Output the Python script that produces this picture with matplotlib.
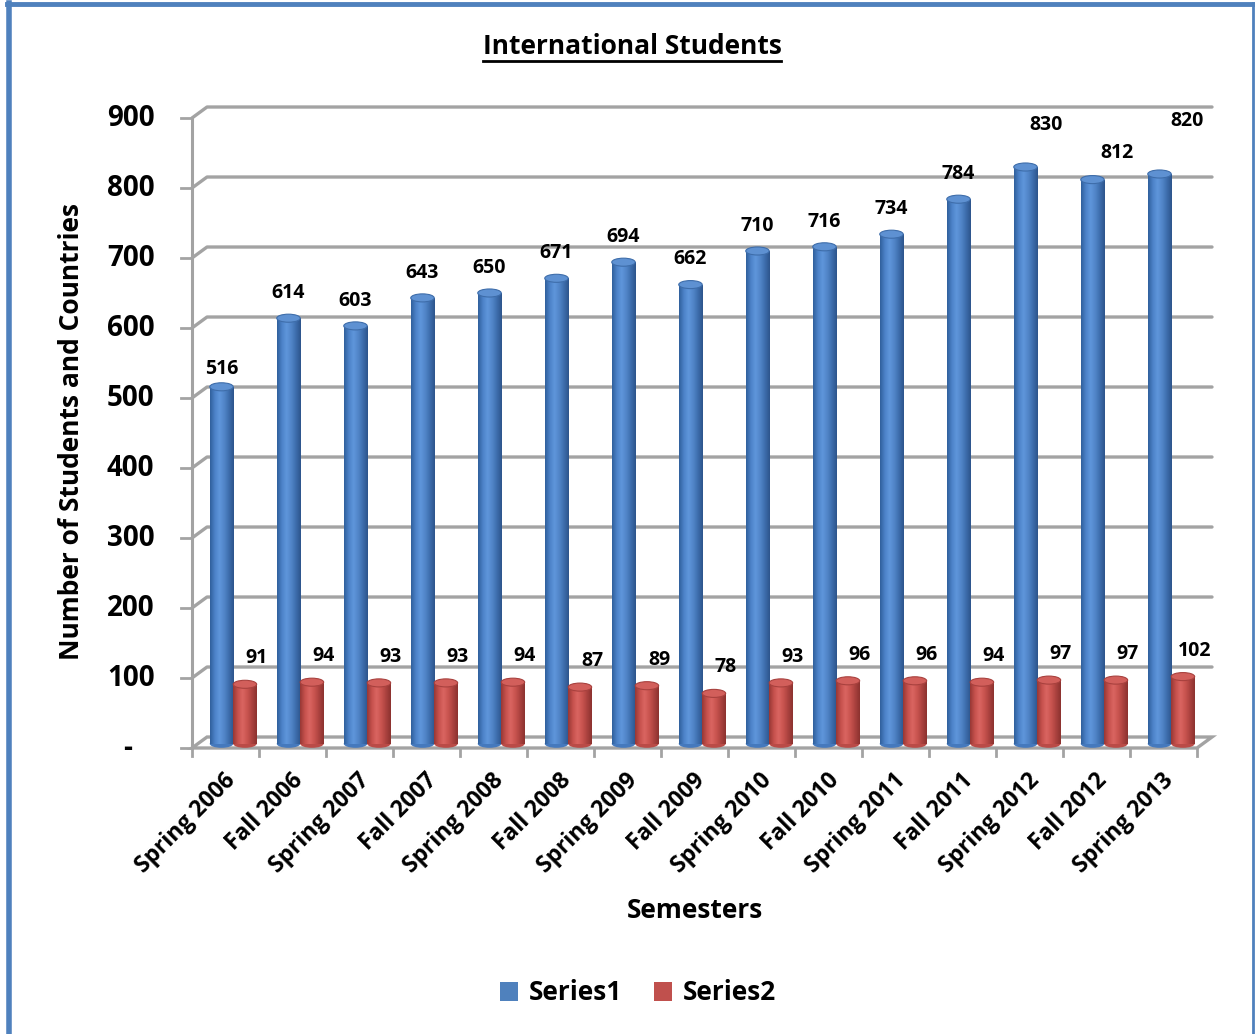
import numpy as np
import matplotlib
matplotlib.use("Agg")
import matplotlib.pyplot as plt
from matplotlib.patches import Rectangle, Ellipse, Patch, Polygon
from matplotlib.lines import Line2D
from matplotlib.colors import LinearSegmentedColormap

plt.rcParams["font.family"] = ["Open Sans", "DejaVu Sans"]
plt.rcParams["font.weight"] = "bold"

semesters = ["Spring 2006", "Fall 2006", "Spring 2007", "Fall 2007", "Spring 2008",
             "Fall 2008", "Spring 2009", "Fall 2009", "Spring 2010", "Fall 2010",
             "Spring 2011", "Fall 2011", "Spring 2012", "Fall 2012", "Spring 2013"]
series1 = [516, 614, 603, 643, 650, 671, 694, 662, 710, 716, 734, 784, 830, 812, 820]
series2 = [91, 94, 93, 93, 94, 87, 89, 78, 93, 96, 96, 94, 97, 97, 102]
y_ticks = [0, 100, 200, 300, 400, 500, 600, 700, 800, 900]
y_ticklabels = ["-   ", "100", "200", "300", "400", "500", "600", "700", "800", "900"]

# a few of the upper labels sit off to the side (offset points)
s1_label_nudge = {0: (0, -5), 12: (15, 12), 13: (18, 1), 14: (20, 20)}

W, H = 1255, 1034
fig = plt.figure(figsize=(W / 100, H / 100), dpi=100)
fig.patch.set_facecolor("white")

# front plane: x 0..15 -> 192..1197 px, y 0..900 -> 748..118 px
ax = fig.add_axes([192 / W, (H - 748) / H, 1005 / W, 630 / H])
ax.set_xlim(0, 15)
ax.set_ylim(0, 900)
ax.axis("off")

n = len(semesters)
dx, dy = 0.224, 15.7          # depth offset of the back wall
grid_c = "#A3A3A3"

# back wall gridlines + left wall diagonals
for v in y_ticks[1:]:
    ax.plot([0, dx, n + dx], [v, v + dy, v + dy], color=grid_c, lw=2.4,
            solid_capstyle="round", zorder=1, clip_on=False)
# floor
ax.add_patch(Polygon([[0, 0], [dx, dy], [n + dx, dy], [n, 0]], closed=True,
                     facecolor="none", edgecolor=grid_c, lw=2.4, zorder=1, clip_on=False))
# front value axis and ticks
ax.plot([0, 0], [0, 900], color=grid_c, lw=2.2, zorder=1, clip_on=False)
for v, lab in zip(y_ticks, y_ticklabels):
    ax.plot([-0.16, 0], [v, v], color=grid_c, lw=2, zorder=1, clip_on=False)
    ax.text(-0.56, v, lab, ha="right", va="center", fontsize=20,
            fontweight="bold", clip_on=False)
# category ticks and labels
for i in range(n + 1):
    ax.plot([i, i], [0, -11], color=grid_c, lw=2, zorder=1, clip_on=False)
for i, s in enumerate(semesters):
    ax.text(i + 0.6, -41, s, rotation=45, rotation_mode="anchor", ha="right",
            va="center", fontsize=16.5, fontweight="bold", clip_on=False)


def cylinder(xc, w, top, cmap, top_fc, top_ec, base=6.0, eh=11.5):
    ax.add_patch(Ellipse((xc, base), w, eh, facecolor=cmap(0.15), edgecolor="none", zorder=3))
    body = Rectangle((xc - w / 2, base), w, top - base, facecolor="none",
                     edgecolor="none", zorder=3)
    ax.add_patch(body)
    grad = np.linspace(0, 1, 64).reshape(1, -1)
    im = ax.imshow(grad, cmap=cmap, aspect="auto", zorder=3,
                   extent=[xc - w / 2, xc + w / 2, base, top], interpolation="bilinear")
    im.set_clip_path(body)
    ax.add_patch(Ellipse((xc, top), w, eh, facecolor=top_fc, edgecolor=top_ec,
                         lw=0.8, zorder=4))


blue_cm = LinearSegmentedColormap.from_list(
    "blue_cyl", ["#30609C", "#4C82C8", "#5F96DB", "#5185C8", "#3D6DAC", "#2D558C"])
red_cm = LinearSegmentedColormap.from_list(
    "red_cyl", ["#983835", "#C6514D", "#DA6561", "#C9544F", "#AB423F", "#8C322F"])

bw = 0.35
for i in range(n):
    cylinder(i + 0.44, bw, series1[i], blue_cm, "#5E91D2", "#3E6DAA")
    cylinder(i + 0.79, bw, series2[i], red_cm, "#D25F5B", "#A8413E")

    nx, ny = s1_label_nudge.get(i, (0, 0))
    ax.annotate(str(series1[i]), (i + 0.44, series1[i] + 36), xytext=(nx, ny),
                textcoords="offset points", ha="center", va="center",
                fontsize=14, fontweight="bold", annotation_clip=False, zorder=6)
    ax.text(i + 0.97, series2[i] + 37, str(series2[i]), ha="center", va="center",
            fontsize=14, fontweight="bold", zorder=6, clip_on=False)

ax.set_xlim(0, 15)
ax.set_ylim(0, 900)

# titles
fig.text(72 / W, 1 - 432 / H, "Number of Students and Countries", rotation=90,
         ha="center", va="center", fontsize=19, fontweight="bold")
fig.text(695 / W, 1 - 910 / H, "Semesters", ha="center", va="center",
         fontsize=19, fontweight="bold")
title = fig.text(632 / W, 1 - 46 / H, "International Students", ha="center",
                 va="center", fontsize=19, fontweight="bold")
fig.canvas.draw()
bb = title.get_window_extent(renderer=fig.canvas.get_renderer())
uy = (bb.y0 - 1) / H
fig.add_artist(Line2D([bb.x0 / W, bb.x1 / W], [uy, uy], color="black", lw=2))

# legend
handles = [Patch(facecolor="#4F81BD", label="Series1"),
           Patch(facecolor="#C0504D", label="Series2")]
fig.legend(handles=handles, loc="center", bbox_to_anchor=(638 / W, 1 - 993 / H),
           ncol=2, frameon=False, prop={"size": 19, "weight": "bold"},
           handlelength=0.7, handleheight=0.7, handletextpad=0.4, columnspacing=1.2)

# chart frame
frame_c = "#4F81BD"
fig.add_artist(Line2D([8.5 / W, 8.5 / W], [0, 1 - 3 / H], color=frame_c, lw=4))
fig.add_artist(Line2D([7 / W, 1252 / W], [1 - 3.5 / H, 1 - 3.5 / H], color=frame_c, lw=3.5))
fig.add_artist(Line2D([1252.5 / W, 1252.5 / W], [0, 1 - 3 / H], color=frame_c, lw=2))

fig.savefig("out.png", dpi=100, facecolor="white")
